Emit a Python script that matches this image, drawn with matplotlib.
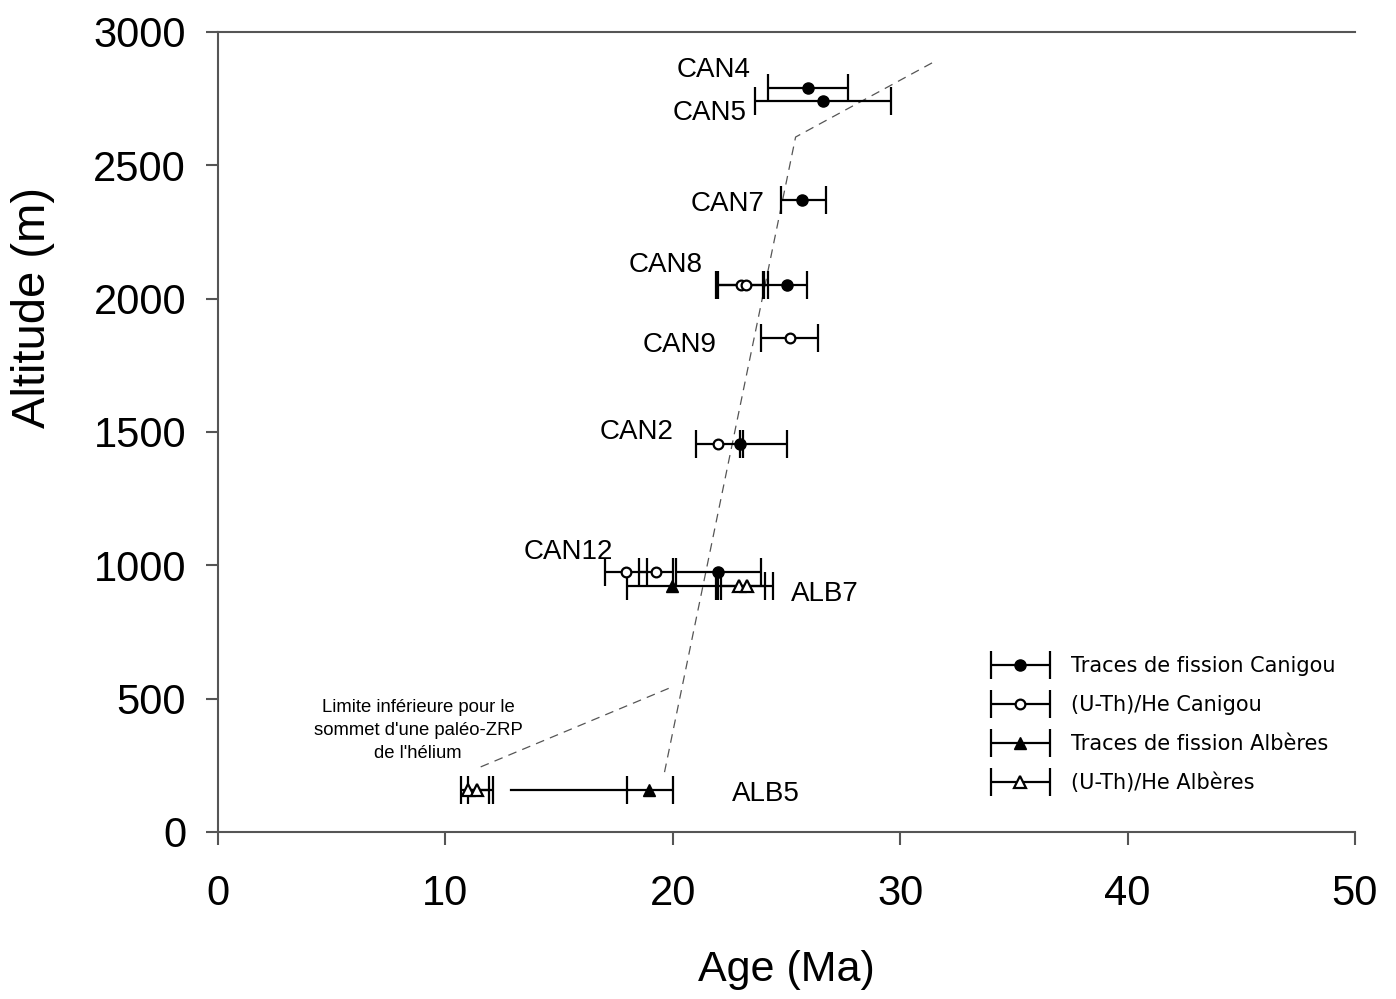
import matplotlib
matplotlib.use("Agg")
import matplotlib.pyplot as plt
from matplotlib.legend_handler import HandlerErrorbar
from matplotlib.container import ErrorbarContainer
import numpy as np

plt.rcParams['font.family'] = ['Liberation Sans', 'DejaVu Sans']

# Fission-track Canigou
ft_can_age = [25.95, 26.6, 25.7, 25.0, 22.95, 22.0]
ft_can_alt = [2790, 2740, 2370, 2050, 1455, 975]
ft_can_lo = [24.2, 23.6, 24.75, 23.95, 22.95, 20.15]
ft_can_hi = [27.7, 29.6, 26.75, 25.9, 25.0, 23.9]

# (U-Th)/He Canigou
he_can_age = [23.0, 23.2, 25.15, 22.0, 17.95, 19.25]
he_can_alt = [2050, 2050, 1852, 1455, 975, 975]
he_can_lo = [21.9, 22.0, 23.9, 21.0, 17.0, 18.5]
he_can_hi = [24.0, 24.2, 26.4, 23.1, 18.85, 20.0]

# Fission-track Albères
ft_alb_age = [19.95, 18.95]
ft_alb_alt = [922, 157]
ft_alb_lo = [18.0, 18.0]
ft_alb_hi = [21.9, 20.0]

# (U-Th)/He Albères
he_alb_age = [22.9, 23.25, 11.0, 11.4]
he_alb_alt = [922, 922, 157, 157]
he_alb_lo = [22.0, 22.1, 10.7, 11.0]
he_alb_hi = [24.05, 24.4, 11.9, 12.1]

# extra plain segment for ALB5
alb5_seg_age = [12.9, 18.0]
alb5_seg_alt = [157, 157]

# dashed interpretation lines
trend_age = [31.4, 25.4, 19.6]
trend_alt = [2884, 2606, 210]
zrp_age = [11.55, 20.0]
zrp_alt = [244, 545]

labels = ["CAN4", "CAN5", "CAN7", "CAN8", "CAN9", "CAN2", "CAN12", "ALB7", "ALB5"]
label_age = [21.8, 21.6, 22.4, 19.7, 20.3, 18.4, 15.4, 26.7, 24.1]
label_alt = [2857, 2696, 2355, 2126, 1826, 1500, 1050, 892, 142]

legend_labels = ['Traces de fission Canigou', '(U-Th)/He Canigou',
                 'Traces de fission Albères', '(U-Th)/He Albères']

fig = plt.figure(figsize=(13.96, 9.99), dpi=100)
ax = fig.add_axes([0.1562, 0.1672, 0.8144, 0.8008])

ekw = dict(color='black', ecolor='black', elinewidth=1.6, capsize=10, capthick=1.6, linestyle='none')

def xerr(age, lo, hi):
    a = np.array(age); return [a - np.array(lo), np.array(hi) - a]

ax.plot(trend_age, trend_alt, ls=(0, (7, 5)), color='#555555', lw=0.9)
ax.plot(zrp_age, zrp_alt, ls=(0, (7, 5)), color='#555555', lw=0.9)
ax.plot(alb5_seg_age, alb5_seg_alt, color='black', lw=1.6)

e1 = ax.errorbar(ft_can_age, ft_can_alt, xerr=xerr(ft_can_age, ft_can_lo, ft_can_hi),
                 marker='o', markersize=8, markerfacecolor='black', markeredgecolor='black', **ekw)
e2 = ax.errorbar(he_can_age, he_can_alt, xerr=xerr(he_can_age, he_can_lo, he_can_hi),
                 marker='o', markersize=7, markerfacecolor='white', markeredgecolor='black',
                 markeredgewidth=1.6, **ekw)
e3 = ax.errorbar(ft_alb_age, ft_alb_alt, xerr=xerr(ft_alb_age, ft_alb_lo, ft_alb_hi),
                 marker='^', markersize=9, markerfacecolor='black', markeredgecolor='black', **ekw)
e4 = ax.errorbar(he_alb_age, he_alb_alt, xerr=xerr(he_alb_age, he_alb_lo, he_alb_hi),
                 marker='^', markersize=8, markerfacecolor='white', markeredgecolor='black',
                 markeredgewidth=1.6, **ekw)

for t, a, h in zip(labels, label_age, label_alt):
    ax.text(a, h, t, fontsize=20, ha='center', va='center')

ax.text(8.8, 380, "Limite inférieure pour le\nsommet d'une paléo-ZRP\nde l'hélium",
        fontsize=13.3, ha='center', va='center', linespacing=1.45)

ax.set_xlim(0, 50)
ax.set_ylim(0, 3000)
ax.set_xticks(range(0, 51, 10))
ax.set_yticks(range(0, 3001, 500))
ax.spines['right'].set_visible(False)
for s in ['left', 'bottom', 'top']:
    ax.spines[s].set_color('#555555')
    ax.spines[s].set_linewidth(1.5)
ax.tick_params(axis='both', labelsize=30, color='#555555', width=1.5, direction='out', length=9)
ax.tick_params(axis='x', pad=21)
ax.tick_params(axis='y', pad=14)

ax.set_xlabel('Age (Ma)', fontsize=31)
ax.set_ylabel('Altitude (m)', fontsize=34)
ax.xaxis.set_label_coords(0.5, -0.1725)
ax.xaxis.label.set_va('center')
ax.yaxis.set_label_coords(-0.163, 0.655)
ax.yaxis.label.set_va('center')

leg = ax.legend([e1, e2, e3, e4], legend_labels,
                loc='upper left', bbox_to_anchor=(0.6636, 0.243), frameon=False,
                prop={'family': 'DejaVu Sans', 'size': 15},
                handlelength=2.8, labelspacing=0.9, handletextpad=1.05,
                handler_map={ErrorbarContainer: HandlerErrorbar(xerr_size=1.4, yerr_size=0.87)})

fig.savefig('out.png', dpi=100)
